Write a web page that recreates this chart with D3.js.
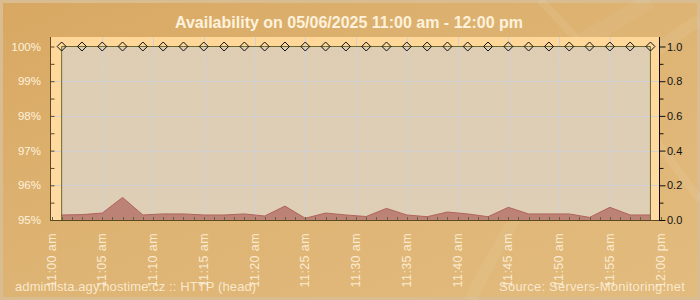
<!DOCTYPE html>
<head>
	<meta charset="utf-8" />
	<style>
		body { margin: 0; background: #fff; overflow: hidden; }
		text { font-family: 'Liberation Sans', Arial, sans-serif; }
	</style>
</head>
<body>
	<div id="chart-area"></div>
	<script src="https://cdnjs.cloudflare.com/ajax/libs/d3/7.8.5/d3.min.js"></script>
	<script>
		// sample times (every 2 minutes)
		var times = ['11:01', '11:03', '11:05', '11:07', '11:09', '11:11', '11:13', '11:15', '11:17', '11:19',
			'11:21', '11:23', '11:25', '11:27', '11:29', '11:31', '11:33', '11:35', '11:37', '11:39',
			'11:41', '11:43', '11:45', '11:47', '11:49', '11:51', '11:53', '11:55', '11:57', '11:59'];
		// availability in %
		var availability = [100, 100, 100, 100, 100, 100, 100, 100, 100, 100,
			100, 100, 100, 100, 100, 100, 100, 100, 100, 100,
			100, 100, 100, 100, 100, 100, 100, 100, 100, 100];
		// response time (right axis)
		var response = [0.029, 0.031, 0.04, 0.13, 0.029, 0.035, 0.035, 0.029, 0.029, 0.035,
			0.023, 0.08, 0.01, 0.04, 0.029, 0.02, 0.067, 0.029, 0.019, 0.046,
			0.035, 0.019, 0.073, 0.035, 0.035, 0.035, 0.015, 0.073, 0.029, 0.029];
		var xTickLabels = ['11:00 am', '11:05 am', '11:10 am', '11:15 am', '11:20 am', '11:25 am',
			'11:30 am', '11:35 am', '11:40 am', '11:45 am', '11:50 am', '11:55 am', '12:00 pm'];
		var leftTicks = [95, 96, 97, 98, 99, 100];
		var rightTicks = [0, 0.2, 0.4, 0.6, 0.8, 1.0];

		var W = 700, H = 300;
		var frame = { left: 50, right: 659, top: 37, bottom: 220 };

		var parse = d3.timeParse('%H:%M');
		var data = times.map((t, i) => ({ t: parse(t), a: availability[i], r: response[i] }));
		var tickTimes = xTickLabels.map(l => d3.timeParse('%I:%M %p')(l));

		var x = d3.scaleTime()
			.domain([parse('11:00'), parse('12:00')])
			.range([51.5, 660.6]);
		var yL = d3.scaleLinear().domain([95, 100]).range([220, 46.5]);
		var yR = d3.scaleLinear().domain([0, 1]).range([220, 46.5]);

		var svg = d3.select('#chart-area').append('svg')
			.attr('width', W).attr('height', H);

		var defs = svg.append('defs');
		var bg = defs.append('linearGradient').attr('id', 'bg')
			.attr('x1', 0).attr('y1', 0).attr('x2', 1).attr('y2', 1);
		bg.append('stop').attr('offset', 0).attr('stop-color', '#d8a862');
		bg.append('stop').attr('offset', 0.5).attr('stop-color', '#deb474');
		bg.append('stop').attr('offset', 1).attr('stop-color', '#e2bb7e');

		var band = defs.append('linearGradient').attr('id', 'band')
			.attr('x1', 0).attr('y1', 0).attr('x2', 0).attr('y2', 1);
		band.append('stop').attr('offset', 0).attr('stop-color', '#ffd799');
		band.append('stop').attr('offset', 1).attr('stop-color', '#ffdba3');

		// background
		svg.append('rect').attr('width', W).attr('height', H).attr('fill', 'url(#bg)');
		svg.append('rect').attr('x', 1.5).attr('y', 1.5).attr('width', W - 3).attr('height', H - 3)
			.attr('fill', 'none').attr('stroke', '#d9bd90').attr('stroke-width', 3);

		// faint swooshes
		var sw = svg.append('g').attr('fill', 'none').attr('stroke', '#fff');
		sw.append('path').attr('d', 'M470,300 C520,200 600,80 700,20').attr('stroke-opacity', 0.06).attr('stroke-width', 12);
		sw.append('path').attr('d', 'M540,0 C600,60 640,120 700,200').attr('stroke-opacity', 0.07).attr('stroke-width', 8);
		sw.append('path').attr('d', 'M400,120 C480,90 560,60 650,0').attr('stroke-opacity', 0.05).attr('stroke-width', 16);

		// title
		svg.append('text')
			.attr('x', 349).attr('y', 28)
			.attr('text-anchor', 'middle')
			.attr('font-size', 16).attr('font-weight', 'bold')
			.attr('fill', '#fff2dc')
			.text('Availability on 05/06/2025 11:00 am - 12:00 pm');

		// plot band
		svg.append('rect')
			.attr('x', frame.left).attr('y', frame.top)
			.attr('width', frame.right - frame.left).attr('height', frame.bottom - frame.top)
			.attr('fill', 'url(#band)');

		// availability area
		var areaA = d3.area().x(d => x(d.t)).y0(yL(95)).y1(d => yL(d.a));
		svg.append('path').datum(data)
			.attr('d', areaA)
			.attr('fill', '#cfc8c0').attr('fill-opacity', 0.68);

		// grid
		var grid = svg.append('g').attr('stroke', '#d2d0d4').attr('stroke-width', 1);
		grid.selectAll('.vg').data(tickTimes.slice(1, -1)).join('line')
			.attr('x1', d => Math.round(x(d)) + 0.5).attr('x2', d => Math.round(x(d)) + 0.5)
			.attr('y1', frame.top).attr('y2', frame.bottom);
		grid.selectAll('.hg').data(leftTicks.slice(1, -1)).join('line')
			.attr('y1', d => Math.round(yL(d)) + 0.5).attr('y2', d => Math.round(yL(d)) + 0.5)
			.attr('x1', frame.left).attr('x2', frame.right);

		// response time area
		var areaR = d3.area().x(d => x(d.t)).y0(yR(0)).y1(d => yR(d.r));
		svg.append('path').datum(data)
			.attr('d', areaR)
			.attr('fill', '#bd8276');
		svg.append('path').datum(data)
			.attr('d', d3.line().x(d => x(d.t)).y(d => yR(d.r)))
			.attr('fill', 'none').attr('stroke', '#b0645c').attr('stroke-width', 1);

		// availability outline
		svg.append('path').datum(data)
			.attr('d', d3.line().x(d => x(d.t)).y(d => yL(d.a)))
			.attr('fill', 'none').attr('stroke', '#6b6a2c').attr('stroke-width', 1);
		var first = data[0], last = data[data.length - 1];
		svg.append('line')
			.attr('x1', x(first.t)).attr('x2', x(first.t))
			.attr('y1', yL(first.a)).attr('y2', yL(95))
			.attr('stroke', '#6b6a2c');
		svg.append('line')
			.attr('x1', x(last.t)).attr('x2', x(last.t))
			.attr('y1', yL(last.a)).attr('y2', yL(95))
			.attr('stroke', '#6b6a2c');

		// diamonds
		svg.selectAll('.dia').data(data).join('path')
			.attr('class', 'dia')
			.attr('transform', d => `translate(${x(d.t)},${yL(d.a)})`)
			.attr('d', 'M0,-4.5L4.5,0L0,4.5L-4.5,0Z')
			.attr('fill', 'none').attr('stroke', '#111').attr('stroke-width', 1);

		// bottom minute ticks
		var minuteTicks = x.ticks(d3.timeMinute.every(1));
		svg.selectAll('.mt').data(minuteTicks).join('line')
			.attr('x1', d => Math.round(x(d)) + 0.5).attr('x2', d => Math.round(x(d)) + 0.5)
			.attr('y1', frame.bottom).attr('y2', frame.bottom - 3)
			.attr('stroke', '#5e6a32');

		// left axis
		var axisL = d3.axisRight(yL)
			.tickValues(d3.range(95, 100.01, 0.5))
			.tickSize(4).tickFormat('');
		var gL = svg.append('g').attr('transform', `translate(${frame.left + 0.5},0)`).call(axisL);
		gL.select('.domain').attr('d', `M0,${frame.top}V${frame.bottom}`).attr('stroke', '#5c4a22');
		gL.selectAll('.tick line').attr('stroke', '#5c4a22');
		svg.selectAll('.ll').data(leftTicks).join('text')
			.attr('x', 41).attr('y', d => yL(d) + 4)
			.attr('text-anchor', 'end').attr('font-size', 11.5)
			.attr('fill', '#fff2dc')
			.text(d => d + '%');

		// bottom axis line
		svg.append('line')
			.attr('x1', frame.left).attr('x2', frame.right)
			.attr('y1', frame.bottom + 0.5).attr('y2', frame.bottom + 0.5)
			.attr('stroke', '#5c4a22');

		// right axis
		var axisR = d3.axisRight(yR)
			.tickValues(d3.range(0, 1.01, 0.1))
			.tickSize(4).tickFormat('');
		var gR = svg.append('g').attr('transform', `translate(${frame.right + 0.5},0)`).call(axisR);
		gR.select('.domain').attr('d', `M0,${frame.top}V${frame.bottom + 1}`).attr('stroke', '#111');
		gR.selectAll('.tick line').attr('stroke', '#111')
			.attr('x2', (d, i) => (i % 2 === 0 ? 6 : 4));
		svg.selectAll('.rl').data(rightTicks).join('text')
			.attr('x', 667).attr('y', d => yR(d) + 4)
			.attr('font-family', "'DejaVu Sans Mono', monospace")
			.attr('font-size', 11).attr('fill', '#111')
			.text(d => d.toFixed(1));

		// x labels
		svg.selectAll('.xl').data(tickTimes).join('text')
			.attr('transform', (d, i) => `translate(${x(d) + 4},233) rotate(-90)`)
			.attr('text-anchor', 'end').attr('font-size', 12.5)
			.attr('letter-spacing', 0.4)
			.attr('fill', '#fff2dc').attr('fill-opacity', 0.9)
			.text((d, i) => xTickLabels[i]);

		// footer
		svg.append('text')
			.attr('x', 15).attr('y', 291)
			.attr('font-size', 13).attr('letter-spacing', 0.1)
			.attr('fill', '#fff2dc').attr('fill-opacity', 0.85)
			.text('adminlista.agy.hostime.cz :: HTTP (head)');
		svg.append('text')
			.attr('x', 685).attr('y', 291)
			.attr('text-anchor', 'end')
			.attr('font-size', 13).attr('letter-spacing', 0.2)
			.attr('fill', '#fff2dc').attr('fill-opacity', 0.85)
			.text('Source: Servers-Monitoring.net');
	</script>
</body>
